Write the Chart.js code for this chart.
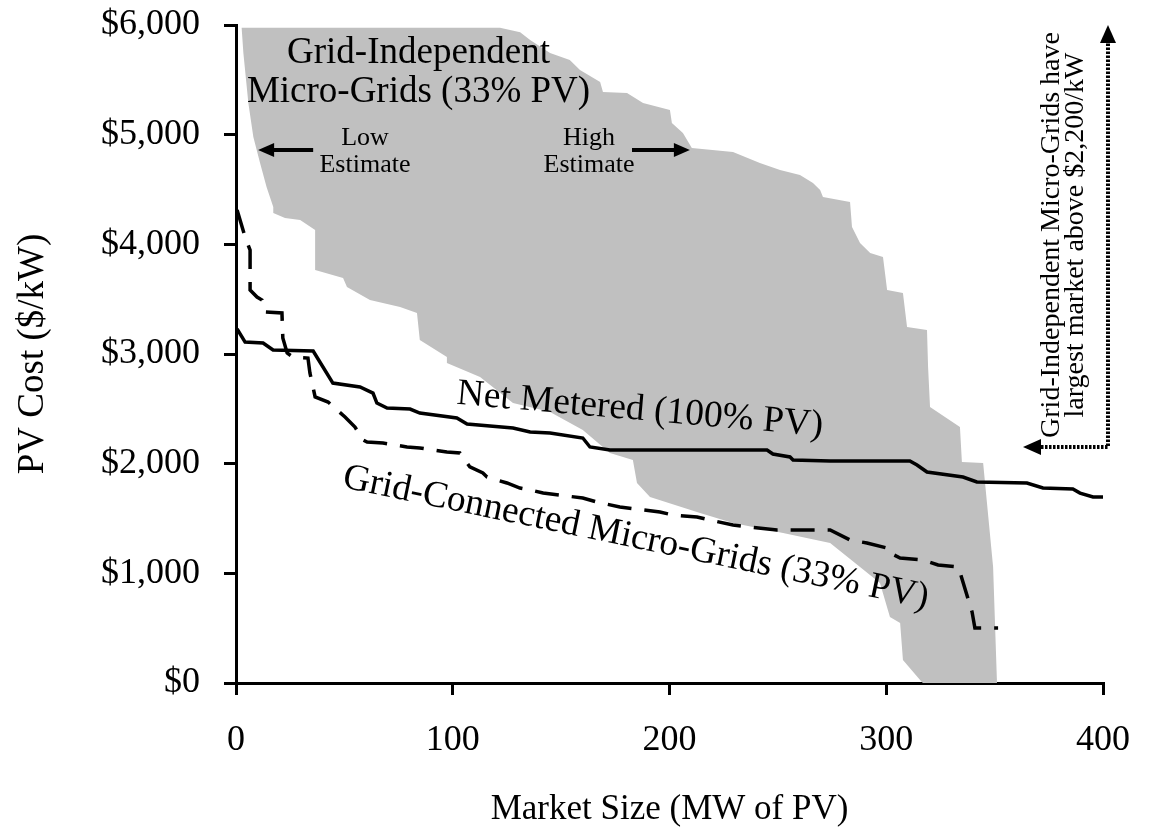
<!DOCTYPE html>
<html lang="en">
<head>
<meta charset="UTF-8">
<title>PV Cost vs Market Size</title>
<script src="https://cdn.jsdelivr.net/npm/chart.js"></script>
<style>
  html, body { margin: 0; padding: 0; background: #fff; }
  canvas { display: block; }
</style>
</head>
<body>
<canvas id="chart" width="1151" height="831"></canvas>
<script>
// Grid-Independent band: low estimate edge and high estimate edge, both read top to bottom
const lowEdgeMW   = [2.6, 3.4, 5.7, 8.0, 11.1, 14.1, 17.2, 17.2, 22.6, 29.6, 36.5, 36.5, 49.4, 51.2, 61.8, 75.7, 83.5, 84.8, 97.3, 97.3, 112.6, 127.8, 144.9, 160.0, 172.5, 183.1, 185.0, 191.0, 214.1, 229.3, 252.4, 274.1, 297.1, 301.7, 306.4, 307.7, 315.6, 316.9];
const lowEdgeCost = [5975, 5744, 5289, 4978, 4741, 4522, 4340, 4285, 4240, 4222, 4131, 3766, 3693, 3611, 3492, 3428, 3374, 3127, 2972, 2918, 2790, 2553, 2471, 2307, 2097, 2033, 1824, 1696, 1550, 1459, 1368, 1277, 912, 602, 547, 210, 27, 0];
const highEdgeMW   = [2.6, 121.8, 131.1, 135.7, 144.9, 154.0, 158.7, 168.0, 169.3, 180.4, 187.8, 200.2, 201.1, 206.2, 210.3, 229.3, 241.7, 251.0, 260.2, 266.2, 269.5, 270.8, 283.3, 284.2, 287.9, 292.6, 298.5, 300.4, 307.7, 309.6, 318.8, 319.3, 320.2, 334.0, 334.9, 344.7, 349.3, 351.1];
const highEdgeCost = [5975, 5975, 5935, 5863, 5744, 5681, 5589, 5480, 5389, 5380, 5289, 5225, 5106, 5015, 4878, 4842, 4741, 4677, 4632, 4559, 4495, 4431, 4386, 4158, 4012, 3921, 3884, 3583, 3556, 3246, 3219, 2881, 2517, 2334, 2015, 2006, 1058, 0];

// Net Metered (100% PV)
const netMW   = [0.5, 4.2, 12.5, 17.1, 35.6, 44.7, 57.2, 63.2, 65.0, 69.7, 80.3, 84.8, 101.9, 106.6, 127.8, 135.7, 144.9, 160.0, 163.3, 172.5, 245.0, 247.7, 255.6, 257.0, 274.1, 310.9, 314.2, 318.8, 335.4, 341.8, 364.9, 372.3, 386.1, 389.4, 395.4, 400];
const netCost = [3228, 3109, 3100, 3036, 3027, 2735, 2699, 2644, 2553, 2507, 2498, 2462, 2416, 2362, 2325, 2289, 2279, 2234, 2152, 2124, 2124, 2088, 2061, 2033, 2024, 2024, 1988, 1924, 1878, 1833, 1824, 1778, 1769, 1732, 1696, 1696];

// Grid-Connected Micro-Grids (33% PV)
const gcMW   = [0.5, 4.2, 6.5, 6.5, 9.7, 12.0, 13.4, 21.2, 21.6, 23.6, 26.3, 33.2, 34.1, 36.5, 42.5, 50.3, 54.9, 58.6, 60.5, 67.8, 78.9, 84.8, 97.3, 103.3, 107.9, 113.9, 115.8, 125.0, 131.0, 135.7, 141.7, 160.0, 166.5, 177.1, 195.6, 201.6, 212.7, 218.7, 229.3, 237.2, 249.6, 274.1, 283.3, 291.1, 300.4, 300.8, 306.4, 316.9, 323.9, 333.1, 334.0, 339.6, 340.9, 351.6];
const gcCost = [4313, 4067, 3948, 3583, 3519, 3492, 3383, 3374, 3146, 3009, 2972, 2963, 2827, 2608, 2562, 2425, 2334, 2216, 2197, 2188, 2152, 2143, 2106, 2097, 1970, 1915, 1878, 1824, 1778, 1760, 1732, 1687, 1650, 1605, 1559, 1532, 1514, 1486, 1441, 1422, 1395, 1395, 1304, 1277, 1231, 1194, 1140, 1122, 1076, 1058, 1012, 647, 501, 501];

const xTicks = [0, 100, 200, 300, 400];
const yTicks = [0, 1000, 2000, 3000, 4000, 5000, 6000];

function pts(xs, ys) {
    return xs.map((x, i) => ({ x: x, y: ys[i] }));
}
// closed outline: down the low edge, back up the high edge
const bandPts = pts(lowEdgeMW, lowEdgeCost).concat(pts(highEdgeMW, highEdgeCost).reverse());

const SERIF = '"Liberation Serif", "Times New Roman", serif';

// text and arrows drawn on top of the plot
const notes = {
    id: 'notes',
    afterDatasetsDraw(chart) {
        const ctx = chart.ctx;
        const X = v => chart.scales.x.getPixelForValue(v);
        const Y = v => chart.scales.y.getPixelForValue(v);

        function text(str, x, y, size, rot) {
            ctx.save();
            ctx.translate(X(x), Y(y));
            ctx.rotate((rot || 0) * Math.PI / 180);
            ctx.font = size + 'px ' + SERIF;
            ctx.fillStyle = '#000';
            ctx.textAlign = 'center';
            ctx.textBaseline = 'middle';
            ctx.fillText(str, 0, 0);
            ctx.restore();
        }
        function head(tx, ty, dx, dy, len, half) {
            // filled triangle, tip at (tx,ty), pointing along (dx,dy)
            ctx.beginPath();
            ctx.moveTo(tx, ty);
            ctx.lineTo(tx - dx * len - dy * half, ty - dy * len + dx * half);
            ctx.lineTo(tx - dx * len + dy * half, ty - dy * len - dx * half);
            ctx.closePath();
            ctx.fill();
        }

        ctx.save();
        ctx.fillStyle = '#000';
        ctx.strokeStyle = '#000';

        text('Grid-Independent', 84.2, 5744, 37);
        text('Micro-Grids (33% PV)', 84.2, 5389, 37);
        text('Low', 59.5, 4969, 26);
        text('Estimate', 59.5, 4723, 26);
        text('High', 162.9, 4969, 26);
        text('Estimate', 162.9, 4723, 26);
        text('Net Metered (100% PV)', 186.4, 2489, 37.5, 5);
        text('Grid-Connected Micro-Grids (33% PV)', 184.5, 1322, 37.4, 11.7);
        text('Grid-Independent Micro-Grids have', 376.4, 4085, 28, -90);
        text('largest market above $2,200/kW', 387.3, 4085, 28, -90);

        // low / high estimate arrows
        const ay = Y(4860);
        ctx.lineWidth = 4;
        ctx.beginPath();
        ctx.moveTo(X(35.6), ay); ctx.lineTo(X(10.2) + 12, ay);
        ctx.moveTo(X(182.7), ay); ctx.lineTo(X(209.4) - 12, ay);
        ctx.stroke();
        head(X(10.2), ay, -1, 0, 16, 7);
        head(X(209.4), ay, 1, 0, 16, 7);

        // dotted bracket on the right
        const cx = X(402.3), cy = Y(2152);
        ctx.lineWidth = 4;
        ctx.setLineDash([2.5, 1.5]);
        ctx.beginPath();
        ctx.moveTo(X(363.1) + 14, cy);
        ctx.lineTo(cx, cy);
        ctx.lineTo(cx, Y(6000) + 14);
        ctx.stroke();
        ctx.setLineDash([]);
        head(X(363.1), cy, -1, 0, 18, 8);
        head(cx, Y(6000), 0, -1, 18, 8);
        ctx.restore();
    }
};

new Chart(document.getElementById('chart'), {
    type: 'line',
    data: {
        datasets: [
            {
                label: 'Grid-Independent Micro-Grids (33% PV)',
                data: bandPts,
                fill: 'shape',
                backgroundColor: '#c0c0c0',
                borderWidth: 0,
                pointRadius: 0,
                order: 3
            },
            {
                label: 'Net Metered (100% PV)',
                data: pts(netMW, netCost),
                borderColor: '#000',
                borderWidth: 3.5,
                pointRadius: 0,
                fill: false,
                order: 1
            },
            {
                label: 'Grid-Connected Micro-Grids (33% PV)',
                data: pts(gcMW, gcCost),
                borderColor: '#000',
                borderWidth: 3.5,
                borderDash: [24, 13],
                pointRadius: 0,
                fill: false,
                order: 2
            }
        ]
    },
    options: {
        responsive: false,
        animation: false,
        layout: { padding: { top: 25, right: 48, left: 0, bottom: 0 } },
        plugins: { legend: { display: false }, tooltip: { enabled: false } },
        scales: {
            x: {
                type: 'linear',
                min: 0,
                max: 400,
                afterBuildTicks: s => { s.ticks = xTicks.map(v => ({ value: v })); },
                ticks: { color: '#000', font: { family: SERIF, size: 36 }, padding: 24, maxRotation: 0 },
                grid: { drawOnChartArea: false, color: '#000', lineWidth: 3, tickLength: 12 },
                border: { color: '#000', width: 3 },
                title: { display: true, text: 'Market Size (MW of PV)', color: '#000',
                         font: { family: SERIF, size: 35 }, padding: { top: 0, bottom: 0 } },
                afterFit: s => { s.height = 148; s.paddingLeft = 0; s.paddingRight = 0; }
            },
            y: {
                min: 0,
                max: 6000,
                afterBuildTicks: s => { s.ticks = yTicks.map(v => ({ value: v })); },
                ticks: { color: '#000', font: { family: SERIF, size: 36 }, padding: 24,
                         callback: v => '$' + v.toLocaleString('en-US') },
                grid: { drawOnChartArea: false, color: '#000', lineWidth: 3, tickLength: 12 },
                border: { color: '#000', width: 3 },
                title: { display: true, text: 'PV Cost ($/kW)', color: '#000',
                         font: { family: SERIF, size: 37 }, padding: { top: 11, bottom: 0 } },
                afterFit: s => { s.width = 236; s.paddingTop = 0; s.paddingBottom = 0; }
            }
        }
    },
    plugins: [notes]
});
</script>
</body>
</html>
